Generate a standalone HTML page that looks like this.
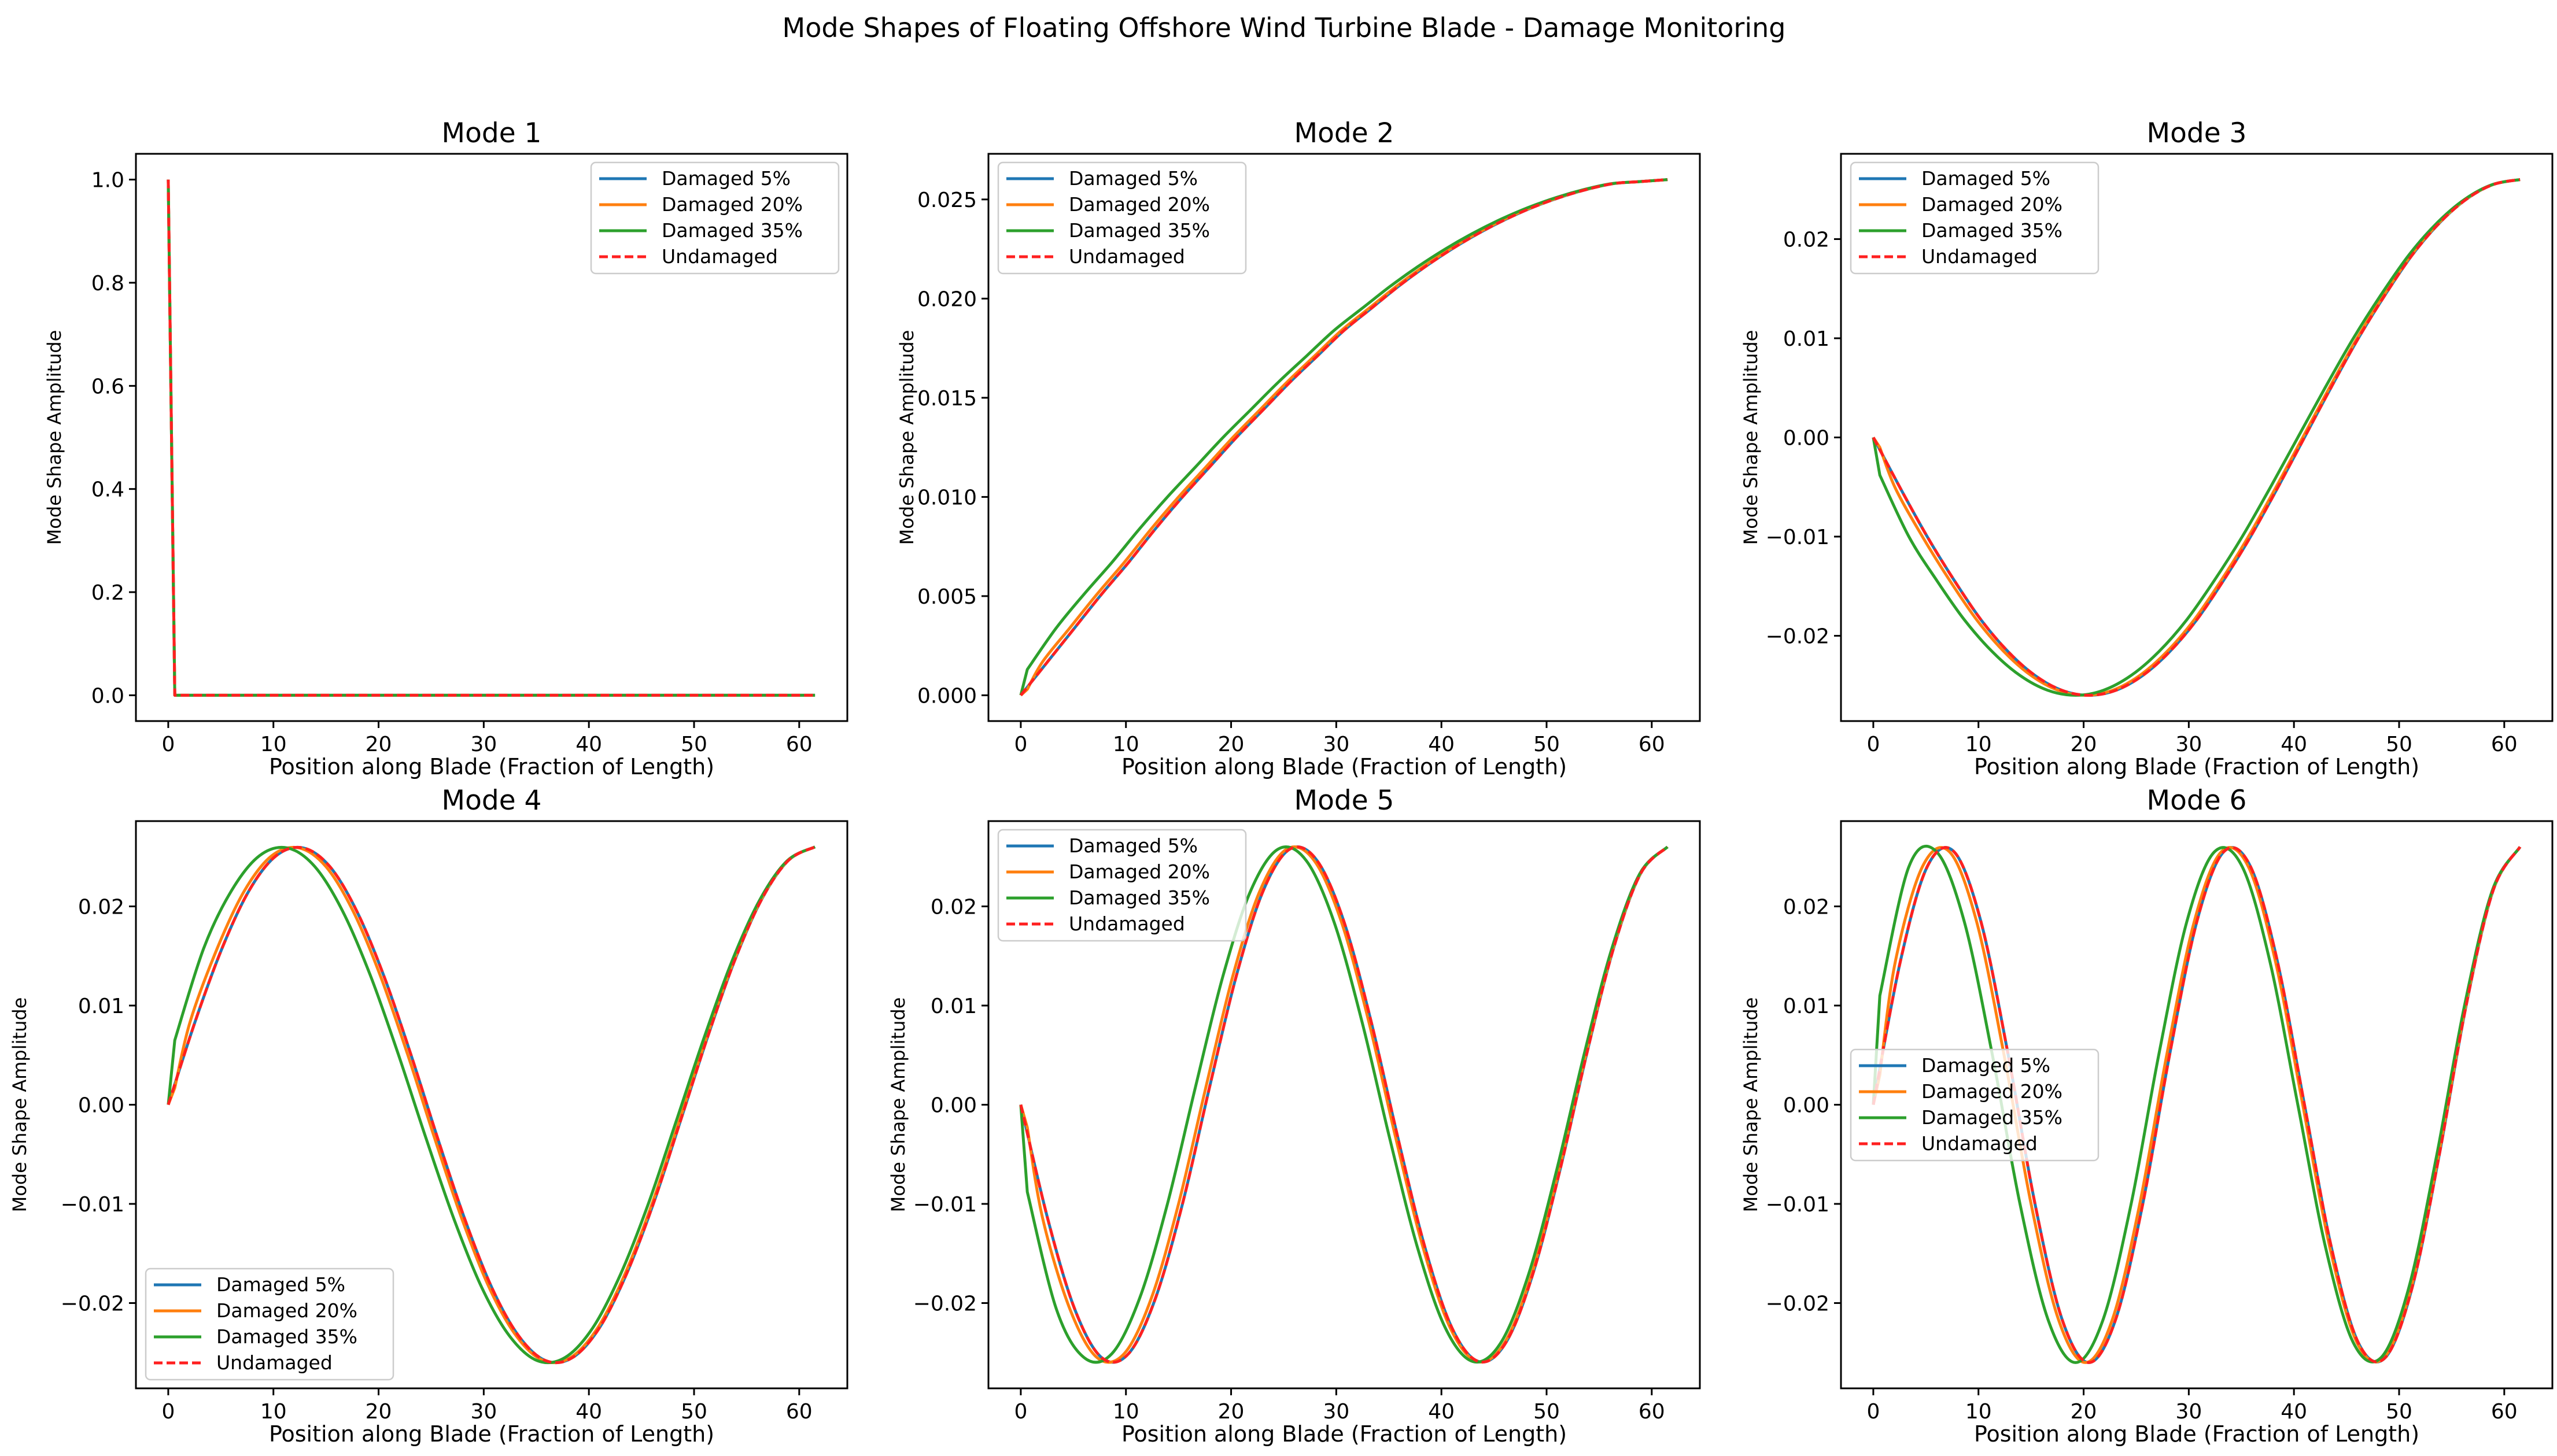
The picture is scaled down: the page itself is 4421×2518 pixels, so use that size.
<!DOCTYPE html>
<html><head><meta charset="utf-8">
<style>
html,body{margin:0;padding:0;background:#fff;}
svg{display:block;font-family:"DejaVu Sans","Liberation Sans",sans-serif;}
</style></head>
<body>
<svg id="fig" width="4421" height="2518" viewBox="0 0 4421 2518" xmlns="http://www.w3.org/2000/svg">
<rect x="0" y="0" width="4421" height="2518" fill="#fff"/>
<text x="2220" y="64" font-size="46" text-anchor="middle" fill="#000">Mode Shapes of Floating Offshore Wind Turbine Blade - Damage Monitoring</text>
</svg>
<script>
// ---- data ----
const seriesNames = ["Damaged 5%","Damaged 20%","Damaged 35%","Undamaged"];
const xUndamaged = [0,2.5625,5.125,7.6875,10.25,12.8125,15.375,17.9375,20.5,23.0625,25.625,28.1875,30.75,33.3125,35.875,38.4375,41,43.5625,46.125,48.6875,51.25,53.8125,56.375,58.9375,61.5];
const xDamaged20 = [0,0.62,2.087,4.670,7.254,9.837,12.420,15.003,17.586,20.170,22.753,25.336,27.919,30.502,33.086,35.669,38.252,40.835,43.418,46.002,48.585,51.168,53.751,56.334,58.918,61.501];
const xDamaged35 = [0,0.62,3.381,6.023,8.665,11.307,13.949,16.591,19.232,21.874,24.516,27.158,29.800,32.441,35.083,37.725,40.367,43.009,45.650,48.292,50.934,53.576,56.218,58.859,61.501];
const xMode1 = [0,0.62,61.5];
const mode1Values = [1.0,0,0];
const mode2Values = [0,0.0017,0.0034,0.0051,0.0067,0.0084,0.0100,0.0115,0.0130,0.0144,0.0158,0.0171,0.0184,0.0195,0.0206,0.0216,0.0225,0.0233,0.0240,0.0246,0.0251,0.0255,0.0258,0.0259,0.0260];
const mode3Values = [0,-0.0051,-0.0100,-0.0144,-0.0184,-0.0216,-0.0240,-0.0255,-0.0260,-0.0255,-0.0240,-0.0216,-0.0184,-0.0144,-0.0100,-0.0051,0,0.0051,0.0100,0.0144,0.0184,0.0216,0.0240,0.0255,0.0260];
const mode4Values = [0,0.0084,0.0158,0.0216,0.0251,0.0259,0.0240,0.0195,0.0130,0.0051,-0.0034,-0.0115,-0.0184,-0.0233,-0.0258,-0.0255,-0.0225,-0.0171,-0.0100,-0.0017,0.0067,0.0144,0.0206,0.0246,0.0260];
const mode5Values = [0,-0.0115,-0.0206,-0.0255,-0.0251,-0.0195,-0.0100,0.0017,0.0130,0.0216,0.0258,0.0246,0.0184,0.0084,-0.0034,-0.0144,-0.0225,-0.0259,-0.0240,-0.0171,-0.0067,0.0051,0.0158,0.0233,0.0260];
const mode6Values = [0,0.0144,0.0240,0.0255,0.0184,0.0051,-0.0100,-0.0216,-0.0260,-0.0216,-0.0100,0.0051,0.0184,0.0255,0.0240,0.0144,0,-0.0144,-0.0240,-0.0255,-0.0184,-0.0051,0.0100,0.0216,0.0260];
// value just outboard of the blade root for damaged cases (modes 2..6)
const rootJump20 = [0.0003,-0.0010,0.0017,-0.0023,0.0030];
const rootJump35 = [0.0013,-0.0038,0.0065,-0.0088,0.0110];
const xTicks = [0,10,20,30,40,50,60];
const yTicksMode1 = [0,0.2,0.4,0.6,0.8,1.0];
const yTicksMode2 = [0,0.005,0.010,0.015,0.020,0.025];
const yTicksOther = [-0.02,-0.01,0,0.01,0.02];

// ---- layout ----
const NS="http://www.w3.org/2000/svg";
const svg=document.getElementById('fig');
const colL=[235,1709,3183], W=1230;
const rowT=[266,1420], H=981;
const colors=["#1f77b4","#ff7f0e","#2ca02c","#ff2020"];
function mk(tag,attrs,parent){const e=document.createElementNS(NS,tag);for(const k in attrs)e.setAttribute(k,attrs[k]);(parent||svg).appendChild(e);return e;}
function fmt(v,d){const s=Math.abs(v).toFixed(d);return (v<-1e-12?"\u2212":"")+s;}
function spline(pts){
  let d="";
  for(let i=0;i<pts.length-1;i++){
    const p0=pts[Math.max(0,i-1)],p1=pts[i],p2=pts[i+1],p3=pts[Math.min(pts.length-1,i+2)];
    const c1=[p1[0]+(p2[0]-p0[0])/6,p1[1]+(p2[1]-p0[1])/6];
    const c2=[p2[0]-(p3[0]-p1[0])/6,p2[1]-(p3[1]-p1[1])/6];
    d+="C"+c1[0].toFixed(1)+","+c1[1].toFixed(1)+" "+c2[0].toFixed(1)+","+c2[1].toFixed(1)+" "+p2[0].toFixed(1)+","+p2[1].toFixed(1);
  }
  return d;
}
function smoothPath(pts,linearHead){
  if(linearHead){
    return "M"+pts[0][0].toFixed(1)+","+pts[0][1].toFixed(1)+"L"+pts[1][0].toFixed(1)+","+pts[1][1].toFixed(1)+spline(pts.slice(1));
  }
  return "M"+pts[0][0].toFixed(1)+","+pts[0][1].toFixed(1)+spline(pts);
}
function dmg20(vals,j){return [0,j].concat(vals.slice(1));}
function dmg35(vals,j){return [0,j].concat(vals.slice(2));}

const modes=[
 {title:"Mode 1",ylim:[-0.05,1.05],ticks:yTicksMode1,dec:1,legend:"tr",
  series:[[xMode1,mode1Values],[xMode1,mode1Values],[xMode1,mode1Values],[xMode1,mode1Values]],smooth:false},
 {title:"Mode 2",ylim:[-0.0013,0.0273],ticks:yTicksMode2,dec:3,legend:"tl",
  series:[[xUndamaged,mode2Values],[xDamaged20,dmg20(mode2Values,rootJump20[0])],[xDamaged35,dmg35(mode2Values,rootJump35[0])],[xUndamaged,mode2Values]],smooth:true},
 {title:"Mode 3",ylim:[-0.0286,0.0286],ticks:yTicksOther,dec:2,legend:"tl",
  series:[[xUndamaged,mode3Values],[xDamaged20,dmg20(mode3Values,rootJump20[1])],[xDamaged35,dmg35(mode3Values,rootJump35[1])],[xUndamaged,mode3Values]],smooth:true},
 {title:"Mode 4",ylim:[-0.0286,0.0286],ticks:yTicksOther,dec:2,legend:"bl",
  series:[[xUndamaged,mode4Values],[xDamaged20,dmg20(mode4Values,rootJump20[2])],[xDamaged35,dmg35(mode4Values,rootJump35[2])],[xUndamaged,mode4Values]],smooth:true},
 {title:"Mode 5",ylim:[-0.0286,0.0286],ticks:yTicksOther,dec:2,legend:"tl",
  series:[[xUndamaged,mode5Values],[xDamaged20,dmg20(mode5Values,rootJump20[3])],[xDamaged35,dmg35(mode5Values,rootJump35[3])],[xUndamaged,mode5Values]],smooth:true},
 {title:"Mode 6",ylim:[-0.0286,0.0286],ticks:yTicksOther,dec:2,legend:"cl",
  series:[[xUndamaged,mode6Values],[xDamaged20,dmg20(mode6Values,rootJump20[4])],[xDamaged35,dmg35(mode6Values,rootJump35[4])],[xUndamaged,mode6Values]],smooth:true}
];
const xlim=[-3.075,64.575];

modes.forEach((m,idx)=>{
  const L=colL[idx%3], T=rowT[Math.floor(idx/3)];
  const g=mk('g',{});
  
  
  const xs=v=>L+(v-xlim[0])/(xlim[1]-xlim[0])*W;
  const ys=v=>T+H-(v-m.ylim[0])/(m.ylim[1]-m.ylim[0])*H;
  const clipId='clip'+idx;
  const cp=mk('clipPath',{id:clipId},g);mk('rect',{x:L,y:T,width:W,height:H},cp);
  const t=mk('text',{x:L+W/2,y:T-20,'font-size':47,'text-anchor':'middle',fill:'#000'},g);t.textContent=m.title;
  
  
  const lines=mk('g',{'clip-path':'url(#'+clipId+')'},g);
  m.series.forEach((s,si)=>{
    const pts=s[0].map((x,i)=>[xs(x),ys(s[1][i])]);
    const d=m.smooth?smoothPath(pts,si===1||si===2):"M"+pts.map(p=>p[0].toFixed(1)+","+p[1].toFixed(1)).join("L");
    const p=mk('path',{d:d,fill:'none',stroke:colors[si],'stroke-width':5,'stroke-linejoin':'round'},lines);
    if(si===3)p.setAttribute('stroke-dasharray','15,7');
    
    
  });
  const fr=mk('rect',{x:L,y:T,width:W,height:H,fill:'none',stroke:'#000','stroke-width':3},g);
  
  
  xTicks.forEach(v=>{
    const x=xs(v);
    mk('line',{x1:x,y1:T+H,x2:x,y2:T+H+12,stroke:'#000','stroke-width':3},g);
    const tl=mk('text',{x:x,y:T+H+52,'font-size':36,'text-anchor':'middle',fill:'#000'},g);tl.textContent=v;
    
    
  });
  m.ticks.forEach(v=>{
    const y=ys(v);
    mk('line',{x1:L-12,y1:y,x2:L,y2:y,stroke:'#000','stroke-width':3},g);
    const tl=mk('text',{x:L-20,y:y+13,'font-size':36,'text-anchor':'end',fill:'#000'},g);tl.textContent=fmt(v,m.dec);
    
    
  });
  const xl=mk('text',{x:L+W/2,y:T+H+92,'font-size':38,'text-anchor':'middle',fill:'#000'},g);
  xl.textContent="Position along Blade (Fraction of Length)";
  
  
  const ylx=(m.dec===2?L-145:L-130)+(idx>=3&&idx%3===0?-45:0);
  const yl=mk('text',{x:ylx,y:T+H/2,'font-size':32,'text-anchor':'middle',fill:'#000',transform:'rotate(-90 '+ylx+' '+(T+H/2)+')'},g);
  yl.textContent="Mode Shape Amplitude";
  
  
  const lw=428,lh=192;
  let lx,ly;
  if(m.legend==='tr'){lx=L+W-lw-15;ly=T+15;}
  else if(m.legend==='tl'){lx=L+17;ly=T+15;}
  else if(m.legend==='bl'){lx=L+17;ly=T+H-lh-15;}
  else {lx=L+17;ly=T+395;}
  const lg=mk('g',{},g);
  
  
  mk('rect',{x:lx,y:ly,width:lw,height:lh,rx:8,fill:'#fff','fill-opacity':0.8,stroke:'#ccc','stroke-width':2.5},lg);
  seriesNames.forEach((n,si)=>{
    const yy=ly+28+si*45;
    const ln=mk('line',{x1:lx+14,y1:yy,x2:lx+96,y2:yy,stroke:colors[si],'stroke-width':5},lg);
    if(si===3)ln.setAttribute('stroke-dasharray','15,7');
    const tx=mk('text',{x:lx+122,y:yy+11,'font-size':33,fill:'#000'},lg);tx.textContent=n;
    
    
  });
});
</script>
</body></html>
